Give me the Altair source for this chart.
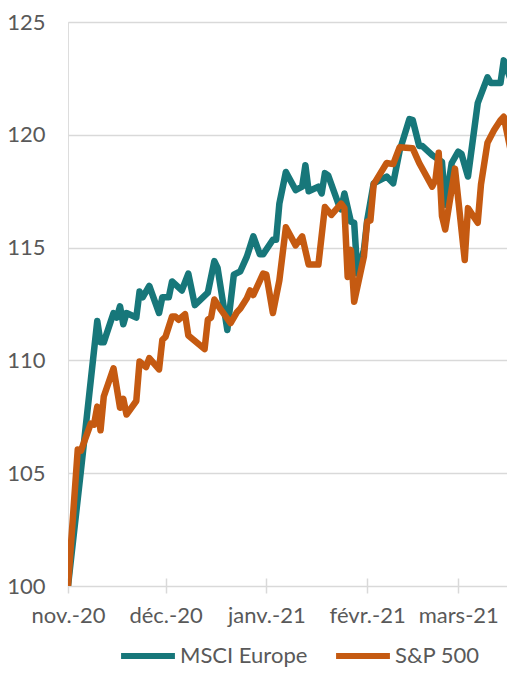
import altair as alt
import pandas as pd

# MSCI Europe (rebased to 100)
msci_dates = [
    "2020-11-01", "2020-11-05", "2020-11-10", "2020-11-11", "2020-11-12", "2020-11-15",
    "2020-11-16", "2020-11-17", "2020-11-18", "2020-11-19", "2020-11-22", "2020-11-23",
    "2020-11-24", "2020-11-26", "2020-11-29", "2020-11-30", "2020-12-02", "2020-12-03",
    "2020-12-06", "2020-12-08", "2020-12-10", "2020-12-14", "2020-12-16", "2020-12-17",
    "2020-12-20", "2020-12-22", "2020-12-24", "2020-12-26", "2020-12-28", "2020-12-30",
    "2020-12-31", "2021-01-03", "2021-01-04", "2021-01-05", "2021-01-07", "2021-01-10",
    "2021-01-12", "2021-01-13", "2021-01-14", "2021-01-17", "2021-01-18", "2021-01-19",
    "2021-01-20", "2021-01-23", "2021-01-24", "2021-01-25", "2021-01-27", "2021-01-28",
    "2021-01-29", "2021-01-31", "2021-02-01", "2021-02-03", "2021-02-07", "2021-02-09",
    "2021-02-11", "2021-02-14", "2021-02-15", "2021-02-17", "2021-02-18", "2021-02-21",
    "2021-02-22", "2021-02-24", "2021-02-25", "2021-02-27", "2021-03-01", "2021-03-02",
    "2021-03-04", "2021-03-07", "2021-03-10", "2021-03-11", "2021-03-14", "2021-03-15",
    "2021-03-17",
]
msci_values = [
    100.0, 105.15, 111.75, 110.8, 110.8, 112.1,
    111.9, 112.4, 111.6, 112.1, 111.9, 113.05,
    112.8, 113.3, 112.1, 112.8, 112.8, 113.5,
    113.1, 113.85, 112.45, 113.0, 114.4, 114.1,
    111.35, 113.8, 113.95, 114.6, 115.5, 114.7,
    114.7, 115.35, 115.35, 116.95, 118.35, 117.55,
    117.7, 118.65, 117.5, 117.7, 117.4, 118.3,
    118.2, 117.0, 116.7, 117.4, 116.15, 116.1,
    113.85, 114.9, 116.2, 117.85, 118.15, 117.85,
    119.3, 120.7, 120.65, 119.5, 119.5, 119.1,
    119.0, 118.8, 116.9, 118.75, 119.25, 119.15,
    118.15, 121.4, 122.55, 122.3, 122.3, 123.3,
    122.5,
]

# S&P 500 (rebased to 100)
sp_dates = [
    "2020-11-01", "2020-11-04", "2020-11-05", "2020-11-08", "2020-11-09", "2020-11-10",
    "2020-11-11", "2020-11-12", "2020-11-15", "2020-11-17", "2020-11-18", "2020-11-19",
    "2020-11-22", "2020-11-23", "2020-11-25", "2020-11-26", "2020-11-29", "2020-11-30",
    "2020-12-01", "2020-12-03", "2020-12-04", "2020-12-05", "2020-12-07", "2020-12-08",
    "2020-12-13", "2020-12-14", "2020-12-15", "2020-12-16", "2020-12-18", "2020-12-21",
    "2020-12-23", "2020-12-24", "2020-12-26", "2020-12-27", "2020-12-28", "2020-12-31",
    "2021-01-01", "2021-01-03", "2021-01-05", "2021-01-07", "2021-01-10", "2021-01-12",
    "2021-01-14", "2021-01-17", "2021-01-19", "2021-01-21", "2021-01-24", "2021-01-25",
    "2021-01-26", "2021-01-27", "2021-01-28", "2021-01-31", "2021-02-01", "2021-02-02",
    "2021-02-03", "2021-02-07", "2021-02-09", "2021-02-11", "2021-02-15", "2021-02-17",
    "2021-02-21", "2021-02-22", "2021-02-23", "2021-02-24", "2021-02-25", "2021-02-28",
    "2021-03-03", "2021-03-04", "2021-03-07", "2021-03-08", "2021-03-10", "2021-03-12",
    "2021-03-14", "2021-03-15", "2021-03-17",
]
sp_values = [
    100.0, 106.05, 106.0, 107.2, 107.15, 107.95,
    106.9, 108.4, 109.65, 107.9, 108.3, 107.6,
    108.2, 109.95, 109.7, 110.1, 109.6, 110.9,
    111.05, 111.95, 111.95, 111.8, 112.05, 111.1,
    110.5, 111.8, 111.9, 112.7, 112.25, 111.65,
    112.15, 112.3, 112.75, 113.1, 112.9, 113.85,
    113.8, 112.1, 113.55, 115.9, 115.1, 115.5,
    114.25, 114.25, 116.8, 116.45, 116.95, 116.75,
    113.7, 114.9, 112.6, 114.6, 116.15, 116.2,
    117.8, 118.75, 118.7, 119.45, 119.4, 118.75,
    117.7, 118.0, 119.2, 116.4, 115.8, 118.5,
    114.45, 116.75, 116.1, 117.8, 119.65, 120.2,
    120.65, 120.8, 119.4,
]

series_names = ["MSCI Europe", "S&P 500"]
series_colors = ["#17777A", "#C55A11"]
y_ticks = [100, 105, 110, 115, 120, 125]
month_ticks = ["2020-11-01", "2020-12-01", "2021-01-01", "2021-02-01", "2021-03-01"]
month_names_fr = ["janv.", "févr.", "mars", "avr.", "mai", "juin",
                  "juil.", "août", "sept.", "oct.", "nov.", "déc."]
x_start = "2020-11-01"
x_end = "2021-03-16"

df = pd.concat([
    pd.DataFrame({"date": msci_dates, "value": msci_values, "series": series_names[0]}),
    pd.DataFrame({"date": sp_dates, "value": sp_values, "series": series_names[1]}),
])
df["date"] = df["date"] + "T00:00:00"


def dt(s):
    y, m, d = (int(p) for p in s.split("-"))
    return alt.DateTime(year=y, month=m, date=d)


label_expr = (
    "[" + ",".join("'" + n + "'" for n in month_names_fr) + "][month(datum.value)]"
    " + '-' + timeFormat(datum.value, '%y')"
)

FONT = "Lato"
GREY = "#595959"
GRID = "#D9D9D9"

chart = (
    alt.Chart(df)
    .mark_line(strokeWidth=6.5, strokeJoin="round", strokeCap="round", clip=True)
    .encode(
        x=alt.X(
            "date:T",
            scale=alt.Scale(domain=[dt(x_start), dt(x_end)]),
            axis=alt.Axis(
                title=None,
                values=[dt(m) for m in month_ticks],
                labelExpr=label_expr,
                domain=False,
                grid=False,
                ticks=True,
                tickSize=15,
                tickWidth=1.5,
                tickColor=GRID,
                offset=-8,
                labelPadding=12,
                labelFont=FONT,
                labelFontSize=22,
                labelColor=GREY,
                labelFlush=False,
                labelOverlap=False,
            ),
        ),
        y=alt.Y(
            "value:Q",
            scale=alt.Scale(domain=[100, 125], nice=False, zero=False),
            axis=alt.Axis(
                title=None,
                values=y_ticks,
                domain=False,
                ticks=False,
                tickSize=0,
                grid=True,
                gridColor=GRID,
                gridWidth=1.5,
                labelPadding=23,
                labelFont=FONT,
                labelFontSize=22,
                labelColor=GREY,
            ),
        ),
        color=alt.Color(
            "series:N",
            scale=alt.Scale(domain=series_names, range=series_colors),
            legend=alt.Legend(
                title=None,
                orient="none",
                direction="horizontal",
                legendX=50,
                legendY=604,
                symbolType="stroke",
                symbolSize=2900,
                symbolStrokeWidth=6,
                labelFont=FONT,
                labelFontSize=22,
                labelColor=GREY,
                labelOffset=2,
                columnPadding=16,
                padding=0,
            ),
        ),
    )
    .properties(
        width=439,
        height=564,
        autosize=alt.AutoSizeParams(type="none"),
        padding={"left": 60, "top": 14, "right": 0, "bottom": 84},
    )
    .configure_view(stroke=None)
    .configure(background="white")
)

chart.save("out.html", embed_options={"renderer": "svg", "actions": False})
